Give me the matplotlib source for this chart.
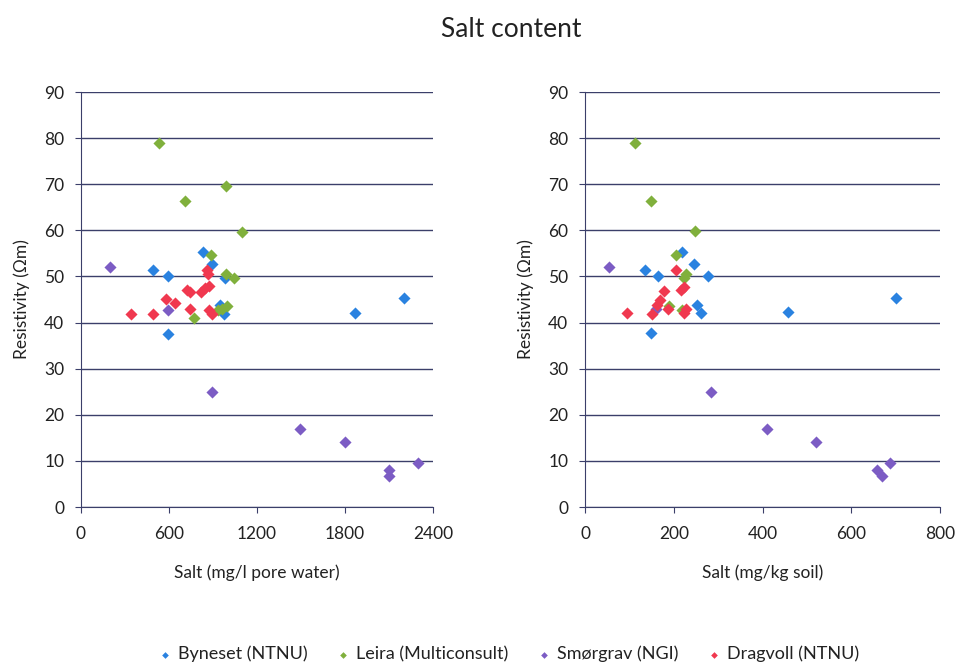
import matplotlib
matplotlib.use("Agg")
import matplotlib.pyplot as plt

plt.rcParams['font.family'] = ['Lato', 'DejaVu Sans']

# Series names and colours
series = ['Byneset (NTNU)', 'Leira (Multiconsult)', 'Smørgrav (NGI)', 'Dragvoll (NTNU)']
colors = ['#2a82e0', '#80b03c', '#7c5cc4', '#f0384f']

# Left: salt in mg/l pore water
byn_pw_x = [830, 890, 490, 590, 985, 945, 975, 590, 1865, 2200]
byn_pw_y = [55.4, 52.7, 51.3, 50.1, 49.7, 43.9, 41.9, 37.6, 42.1, 45.3]
lei_pw_x = [530, 990, 710, 1100, 885, 990, 1040, 770, 960, 995, 935]
lei_pw_y = [79.0, 69.6, 66.3, 59.7, 54.6, 50.6, 49.6, 41.0, 43.0, 43.7, 42.8]
smo_pw_x = [195, 590, 890, 1495, 1800, 2100, 2100, 2300]
smo_pw_y = [52.0, 42.8, 25.0, 17.0, 14.0, 8.0, 6.8, 9.6]
dra_pw_x = [860, 865, 720, 740, 820, 845, 870, 580, 640, 340, 490, 740, 875, 895]
dra_pw_y = [51.3, 50.5, 47.0, 46.6, 46.6, 47.4, 48.0, 45.2, 44.2, 41.9, 41.9, 43.0, 42.8, 41.9]

# Right: salt in mg/kg soil
byn_s_x = [219, 246, 136, 165, 276, 253, 261, 149, 457, 701]
byn_s_y = [55.4, 52.8, 51.3, 50.1, 50.0, 43.9, 42.0, 37.7, 42.2, 45.4]
lei_s_x = [113, 149, 248, 204, 228, 222, 190, 218]
lei_s_y = [79.0, 66.3, 59.8, 54.6, 50.6, 49.7, 43.7, 42.8]
smo_s_x = [54, 160, 284, 411, 520, 657, 669, 687]
smo_s_y = [52.0, 43.0, 25.0, 17.0, 14.0, 8.0, 6.7, 9.6]
dra_s_x = [205, 224, 216, 178, 169, 163, 186, 228, 224, 95, 152]
dra_s_y = [51.5, 47.7, 47.0, 46.8, 44.8, 43.8, 43.0, 43.0, 42.0, 42.0, 41.9]

left_data = [(byn_pw_x, byn_pw_y), (lei_pw_x, lei_pw_y), (smo_pw_x, smo_pw_y), (dra_pw_x, dra_pw_y)]
right_data = [(byn_s_x, byn_s_y), (lei_s_x, lei_s_y), (smo_s_x, smo_s_y), (dra_s_x, dra_s_y)]

fig = plt.figure(figsize=(9.63, 6.64), dpi=100)
ax1 = fig.add_axes([0.0841, 0.2364, 0.3655, 0.625])
ax2 = fig.add_axes([0.6075, 0.2364, 0.3687, 0.625])

grid_col = '#3b3f6a'

def style(ax, data, xmax, xticks, xlabel):
    for (x, y), c, name in zip(data, colors, series):
        ax.scatter(x, y, marker='D', s=38, color=c, label=name, zorder=3, linewidths=0)
    ax.set_xlim(0, xmax)
    ax.set_ylim(0, 90)
    ax.set_xticks(xticks)
    ax.set_yticks(range(0, 100, 10))
    ax.yaxis.grid(True, color=grid_col, linewidth=1.0)
    ax.set_axisbelow(True)
    for s in ['top', 'right']:
        ax.spines[s].set_visible(False)
    ax.spines['left'].set_color(grid_col)
    ax.spines['bottom'].set_color(grid_col)
    ax.tick_params(axis='both', labelsize=12.5, color=grid_col, length=4, labelcolor='#222222')
    ax.tick_params(axis='x', pad=10)
    ax.tick_params(axis='y', pad=8)
    ax.set_xlabel(xlabel, fontsize=12.5, labelpad=16, color='#222222')
    ax.set_ylabel('Resistivity (Ωm)', fontsize=12.5, labelpad=10, color='#222222')

style(ax1, left_data, 2400, [0, 600, 1200, 1800, 2400], 'Salt (mg/l pore water)')
style(ax2, right_data, 800, [0, 200, 400, 600, 800], 'Salt (mg/kg soil)')

fig.suptitle('Salt content', fontsize=19, x=0.531, y=0.975, color='#222222')

handles, labels = ax1.get_legend_handles_labels()
fig.legend(handles, labels, loc='lower center', bbox_to_anchor=(0.528, -0.022), ncol=4,
           frameon=False, fontsize=13, markerscale=0.55, handlelength=0.8,
           handletextpad=0.3, columnspacing=1.6, labelcolor='#222222')

fig.savefig('out.png', dpi=100)
